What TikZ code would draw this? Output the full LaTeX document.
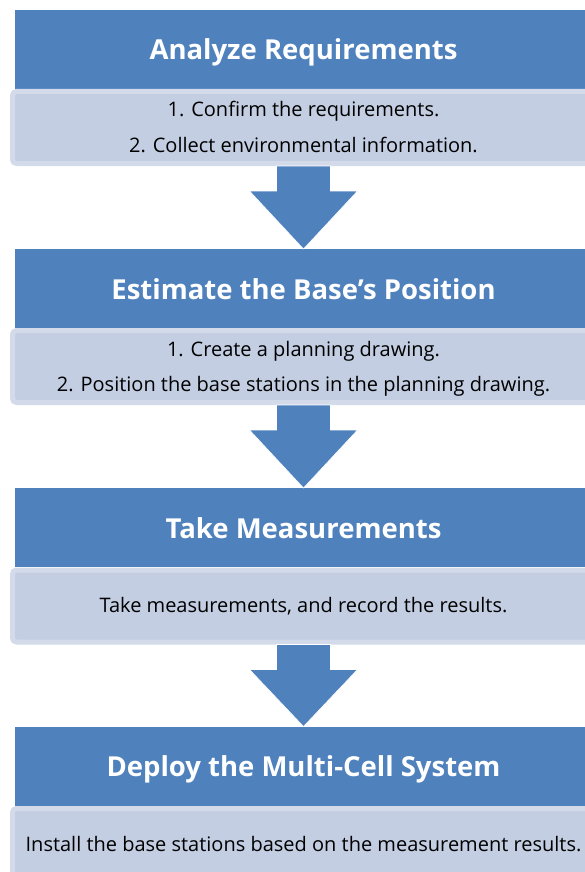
\documentclass[tikz,border=0pt]{standalone}
\usepackage{fontspec}
\setmainfont{Open Sans}
\usetikzlibrary{calc}
\definecolor{hdr}{HTML}{4F81BD}
\definecolor{bodyin}{HTML}{C3CEE2}
\definecolor{bodyout}{HTML}{D3DBEA}
\newcommand{\twolines}[2]{\begin{tabular}{@{}c@{}}#1\\#2\end{tabular}}
\begin{document}
\begin{tikzpicture}[x=1pt,y=-1pt,
  hdrbox/.style={fill=hdr, draw=none, minimum width=577pt, minimum height=79pt, inner sep=0pt, outer sep=0pt, text=white, text height=27pt, text depth=6pt, font=\fontsize{27.5}{32}\selectfont\bfseries},
  bodybox/.style={fill=bodyin, draw=bodyout, line width=5pt, rounded corners=4pt, minimum width=582pt, minimum height=72pt, inner sep=0pt, outer sep=2.5pt, text=black, font=\fontsize{20}{35}\selectfont},
  flowarrow/.style={fill=hdr, draw=white, line width=0.6pt}
]
\useasboundingbox (0,0) rectangle (585,872);
\fill[white] (0,0) rectangle (585,872);

\node[hdrbox] (h1) at (303.5,49.5) {Analyze Requirements};
\node[bodybox] (b1) at (303.5,127.5) {\twolines{1. Confirm the requirements.}{2. Collect environmental information.}};

\node[hdrbox] (h2) at (303.5,288.5) {Estimate the Base’s Position};
\node[bodybox] (b2) at (303.5,366.5) {\twolines{1. Create a planning drawing.}{2. Position the base stations in the planning drawing.}};

\node[hdrbox] (h3) at (303.5,527.5) {Take Measurements};
\node[bodybox] (b3) at (303.5,606) {Take measurements, and record the results.};

\node[hdrbox] (h4) at (303.5,766) {Deploy the Multi-Cell System};
\node[bodybox] (b4) at (303.5,844.5) {Install the base stations based on the measurement results.};

\foreach \b/\h in {b1/h2,b2/h3,b3/h4}{
  \fill[flowarrow] ($(\b.south)+(-27,0)$) -- ($(\b.south)+(27,0)$) -- ($(\b.south)+(27,25)$) -- ($(\b.south)+(54,25)$) -- (\h.north) -- ($(\b.south)+(-54,25)$) -- ($(\b.south)+(-27,25)$) -- cycle;
}
\end{tikzpicture}
\end{document}
